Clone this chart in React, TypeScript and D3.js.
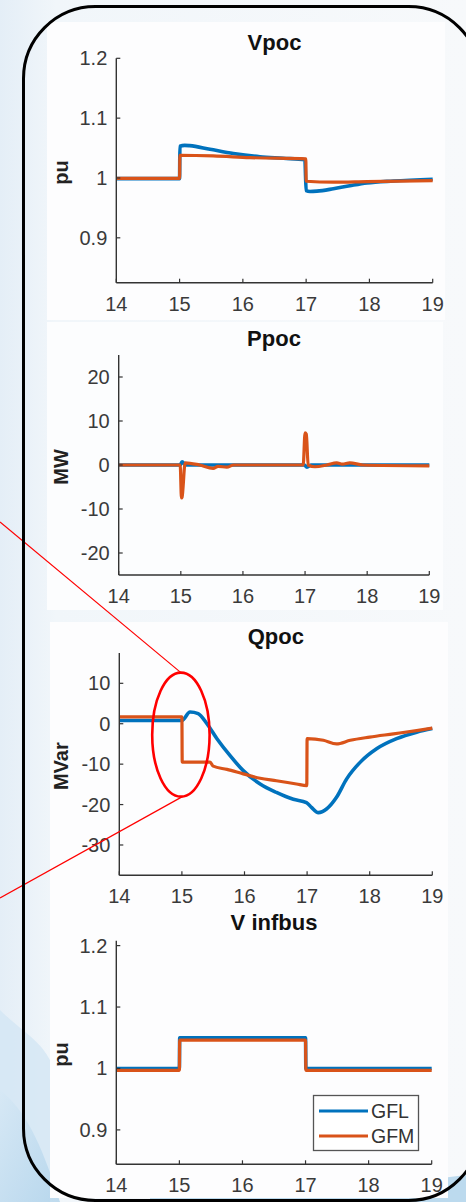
import * as d3 from "d3";

const GFL_COLOR = "#0072BD";
const GFM_COLOR = "#D95319";
const FONT = "'Liberation Sans', Arial, Helvetica, sans-serif";

const xTicks = [14, 15, 16, 17, 18, 19];

// Vpoc
const vpocGflT = [14, 15, 15.005, 15.08, 15.16, 15.48, 15.85, 16.27, 16.64, 16.98, 17.0, 17.06, 17.17, 17.43, 17.69, 17.96, 18.38, 19];
const vpocGflV = [0.999, 0.999, 1.053, 1.0545, 1.054, 1.048, 1.041, 1.0355, 1.033, 1.0305, 0.979, 0.9775, 0.978, 0.982, 0.987, 0.9917, 0.995, 0.998];
const vpocGfmT = [14, 15, 15.005, 15.53, 16.11, 16.995, 17.0, 17.43, 17.96, 19];
const vpocGfmV = [0.9995, 0.9995, 1.038, 1.037, 1.034, 1.032, 0.9945, 0.993, 0.994, 0.9955];

// Ppoc
const ppocGflT = [14, 14.99, 15.02, 15.08, 16.99, 17.03, 17.1, 19];
const ppocGflV = [0, 0, 0.7, 0, 0, -0.5, 0, 0];
const ppocGfmT = [14, 14.99, 15.01, 15.02, 15.07, 15.3, 15.52, 15.6, 15.74, 15.85, 16.97, 17.0, 17.02, 17.05, 17.16, 17.35, 17.51, 17.6, 17.72, 17.93, 19];
const ppocGfmV = [0, 0, -7.5, -7.3, 0.5, 0, -0.75, -0.3, -0.5, 0, 0, 7.3, 7.0, 0, -0.4, 0, 0.5, 0.2, 0.5, 0, -0.2];

// Qpoc
const qpocGflT = [14, 15, 15.13, 15.26, 15.4, 15.56, 15.77, 15.98, 16.25, 16.51, 16.78, 16.99, 17.07, 17.18, 17.31, 17.47, 17.63, 17.85, 18.11, 18.43, 18.75, 19];
const qpocGflV = [0.8, 0.8, 2.9, 2.5, 0, -3.7, -7.9, -11.6, -14.9, -17, -18.7, -19.5, -20.7, -22, -21.1, -18.2, -13.7, -9.5, -6.2, -3.7, -2.1, -1.2];
const qpocGfmT = [14, 15, 15.005, 15.45, 15.5, 15.72, 15.98, 16.25, 16.51, 16.83, 16.995, 17.0, 17.26, 17.47, 17.69, 18.0, 18.38, 18.75, 19];
const qpocGfmV = [1.7, 1.7, -9.5, -9.5, -10.5, -11.3, -12.4, -13.5, -14.1, -14.9, -15.3, -3.7, -4.1, -5, -4.1, -3.3, -2.5, -1.7, -1.1];

// V infbus
const vinfGflT = [14, 15, 15.005, 17, 17.005, 19];
const vinfGflV = [1.0, 1.0, 1.05, 1.05, 1.0, 1.0];
const vinfGfmT = [14, 15, 15.005, 17, 17.005, 19];
const vinfGfmV = [0.997, 0.997, 1.046, 1.046, 0.997, 0.997];

const legendLabels = ["GFL", "GFM"];

const zip = (t: number[], v: number[]) => t.map((d, i) => [d, v[i]] as [number, number]);

const plots = [
  {
    title: "Vpoc", ylabel: "pu", yDomain: [0.825, 1.2], yTicks: [0.9, 1, 1.1, 1.2],
    left: 116.3, right: 432.7, top: 58.3, bottom: 282.7, titleY: 42,
    gfl: zip(vpocGflT, vpocGflV), gfm: zip(vpocGfmT, vpocGfmV),
  },
  {
    title: "Ppoc", ylabel: "MW", yDomain: [-25, 25], yTicks: [-20, -10, 0, 10, 20],
    left: 118.7, right: 429.3, top: 355, bottom: 575, titleY: 338,
    gfl: zip(ppocGflT, ppocGflV), gfm: zip(ppocGfmT, ppocGfmV),
  },
  {
    title: "Qpoc", ylabel: "MVar", yDomain: [-37.5, 17.5], yTicks: [-30, -20, -10, 0, 10],
    left: 119.3, right: 432.3, top: 653, bottom: 875.3, titleY: 636,
    gfl: zip(qpocGflT, qpocGflV), gfm: zip(qpocGfmT, qpocGfmV),
  },
  {
    title: "V infbus", ylabel: "pu", yDomain: [0.844, 1.208], yTicks: [0.9, 1, 1.1, 1.2],
    left: 116.3, right: 431.7, top: 940.7, bottom: 1164.3, titleY: 922,
    gfl: zip(vinfGflT, vinfGflV), gfm: zip(vinfGfmT, vinfGfmV),
  },
];

function Subplot({ p }: { p: any }) {
  const x = d3.scaleLinear().domain([14, 19]).range([p.left, p.right]);
  const y = d3.scaleLinear().domain(p.yDomain).range([p.bottom, p.top]);
  const line = d3.line<[number, number]>().x(d => x(d[0])).y(d => y(d[1])).curve(d3.curveMonotoneX);
  const axisColor = "#333";
  return (
    <g>
      <text x={(p.left + p.right) / 2} y={p.titleY} textAnchor="middle" dominantBaseline="central"
        fontFamily={FONT} fontWeight="bold" fontSize={22} fill="#111">{p.title}</text>
      <text transform={`translate(61,${(p.top + p.bottom) / 2 + 2}) rotate(-90)`} textAnchor="middle"
        dominantBaseline="central" fontFamily={FONT} fontWeight="bold" fontSize={20} fill="#222">{p.ylabel}</text>
      <path d={line(p.gfl) || ""} fill="none" stroke={GFL_COLOR} strokeWidth={3.6} strokeLinejoin="round" />
      <path d={line(p.gfm) || ""} fill="none" stroke={GFM_COLOR} strokeWidth={3.2} strokeLinejoin="round" />
      <line x1={p.left} x2={p.left} y1={p.top} y2={p.bottom} stroke={axisColor} strokeWidth={1.4} />
      <line x1={p.left} x2={p.right} y1={p.bottom} y2={p.bottom} stroke={axisColor} strokeWidth={1.4} />
      {xTicks.map(t => (
        <g key={t}>
          <line x1={x(t)} x2={x(t)} y1={p.bottom} y2={p.bottom - 4} stroke={axisColor} strokeWidth={1.2} />
          <text x={x(t)} y={p.bottom + 21} textAnchor="middle" dominantBaseline="central"
            fontFamily={FONT} fontSize={20} fill="#3a3a3a">{t}</text>
        </g>
      ))}
      {p.yTicks.map((t: number) => (
        <g key={t}>
          <line x1={p.left} x2={p.left + 4} y1={y(t)} y2={y(t)} stroke={axisColor} strokeWidth={1.2} />
          <text x={p.left - 9} y={y(t)} textAnchor="end" dominantBaseline="central"
            fontFamily={FONT} fontSize={20} fill="#3a3a3a">{t}</text>
        </g>
      ))}
    </g>
  );
}

export default function App() {
  const q = plots[2];
  const qx = d3.scaleLinear().domain([14, 19]).range([q.left, q.right]);
  const qy = d3.scaleLinear().domain(q.yDomain).range([q.bottom, q.top]);
  const ex = qx(15) - 1;
  const ey = qy(-2.7);
  const erx = 28.7;
  const ery = 62;
  return (
    <div style={{ position: "absolute", left: 0, top: 0 }}>
      <svg width={466} height={1202} viewBox="0 0 466 1202">
        <defs>
          <linearGradient id="bg" x1="0" y1="0" x2="1" y2="0">
            <stop offset="0" stopColor="#e4eef7" />
            <stop offset="0.12" stopColor="#f1f6fa" />
            <stop offset="1" stopColor="#f7f9fb" />
          </linearGradient>
          <linearGradient id="swoosh" x1="0" y1="0" x2="1" y2="1">
            <stop offset="0" stopColor="#d6e8f5" />
            <stop offset="1" stopColor="#a9cfe9" />
          </linearGradient>
        </defs>
        <rect x={0} y={0} width={466} height={1202} fill="url(#bg)" />
        <path d="M0,1010 C20,1030 40,1040 50,1060 L50,1202 L0,1202 Z" fill="#d3e6f4" opacity={0.8} />
        <path d="M0,1090 C25,1110 40,1140 60,1202 L0,1202 Z" fill="url(#swoosh)" opacity={0.7} />
        <path d="M150,1198 C250,1192 350,1190 466,1175 L466,1202 L150,1202 Z" fill="#bcdaee" />
        <rect x={47} y={22} width={398} height={298} fill="#fdfdfe" />
        <rect x={47} y={322} width={396} height={288} fill="#fcfdfe" />
        <rect x={50} y={622} width={398} height={288} fill="#fdfdfe" />
        <rect x={50} y={910} width={398} height={288} fill="#fdfdfe" />
        {plots.map(p => <Subplot key={p.title} p={p} />)}
        <g>
          <rect x={313.5} y={1095.5} width={105} height={55} fill="#fff" stroke="#555" strokeWidth={1.3} />
          {legendLabels.map((l, i) => (
            <g key={l}>
              <line x1={319} x2={368} y1={1111 + i * 25} y2={1111 + i * 25}
                stroke={i === 0 ? GFL_COLOR : GFM_COLOR} strokeWidth={3} />
              <text x={371} y={1111 + i * 25} dominantBaseline="central" fontFamily={FONT}
                fontSize={19.5} fill="#333">{l}</text>
            </g>
          ))}
        </g>
        <ellipse cx={ex} cy={ey} rx={erx} ry={ery} fill="none" stroke="#ff0000" strokeWidth={2.6} />
        <line x1={0} y1={522} x2={ex} y2={ey - ery} stroke="#ff0000" strokeWidth={1.2} />
        <line x1={0} y1={898} x2={ex + 1.5} y2={ey + ery} stroke="#ff0000" strokeWidth={1.2} />
        <rect x={23.5} y={6.5} width={457} height={1194} rx={72} fill="none" stroke="#000" strokeWidth={3} />
      </svg>
    </div>
  );
}
